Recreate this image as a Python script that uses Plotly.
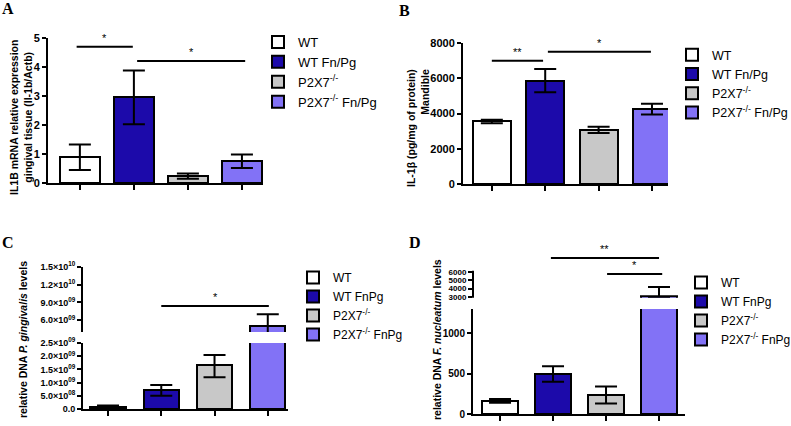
import plotly.graph_objects as go

W, H = 791, 426
FONT = "Liberation Sans"
SUP = "<sup>-/-</sup>"

groups_a = ["WT", "WT Fn/Pg", "P2X7" + SUP, "P2X7" + SUP + " Fn/Pg"]
groups_c = ["WT", "WT FnPg", "P2X7" + SUP, "P2X7" + SUP + " FnPg"]
colors = ["#FFFFFF", "#1C0AAA", "#C8C8C8", "#8272F6"]

# panel A: IL1B mRNA
a_mean = [0.90, 2.97, 0.25, 0.77]
a_plus = [0.43, 0.91, 0.08, 0.21]
a_minus = [0.45, 0.94, 0.10, 0.25]

# panel B: IL-1b protein
b_mean = [3550, 5870, 3080, 4270]
b_plus = [100, 660, 170, 280]
b_minus = [100, 670, 180, 320]

# panel C: P. gingivalis DNA
c_mean = [0.08e9, 0.72e9, 1.65e9, 5.0e9]
c_plus = [0.05e9, 0.19e9, 0.40e9, 2.0e9]
c_minus = [0.05e9, 0.22e9, 0.45e9, 2.0e9]

# panel D: F. nucleatum DNA
d_mean = [165, 500, 235, 3100]
d_plus = [20, 90, 105, 1100]
d_minus = [25, 100, 105, 200]

# significance bars: (x0, x1, y, label)
sig_a = [(-0.06, 0.98, 4.70, "*"), (1.06, 3.06, 4.21, "*")]
sig_b = [(0.0, 0.96, 7000, "**"), (1.05, 2.98, 7500, "*")]
sig_c = [(1.0, 3.02, 8.4e9, "*")]
sig_d = [(0.96, 3.0, 7680, "**"), (2.02, 3.06, 5760, "*")]

c_lo_ticks = [0, 0.5e9, 1.0e9, 1.5e9, 2.0e9, 2.5e9]
c_lo_text = ["0.0", "5.0×10<sup>08</sup>", "1.0×10<sup>09</sup>", "1.5×10<sup>09</sup>",
             "2.0×10<sup>09</sup>", "2.5×10<sup>09</sup>"]
c_hi_ticks = [6.0e9, 9.0e9, 1.2e10, 1.5e10]
c_hi_text = ["6.0×10<sup>09</sup>", "9.0×10<sup>09</sup>", "1.2×10<sup>10</sup>",
             "1.5×10<sup>10</sup>"]
d_lo_ticks = [0, 500, 1000]
d_hi_ticks = [3000, 4000, 5000, 6000]


def px(x):
    return x / W


def py(y):
    return 1 - y / H


fig = go.Figure()


def add_bars(mean, plus, minus, names, xa, ya, legend, width, show):
    for i in range(4):
        fig.add_trace(go.Bar(
            x=[i], y=[mean[i]], name=names[i], width=width,
            marker=dict(color=colors[i], line=dict(color="black", width=2)),
            error_y=dict(type="data", symmetric=False, array=[plus[i]],
                         arrayminus=[minus[i]], color="black", thickness=2, width=11),
            xaxis=xa, yaxis=ya, legend=legend, showlegend=show,
        ))


add_bars(a_mean, a_plus, a_minus, groups_a, "x", "y", "legend", 0.74, True)
add_bars(b_mean, b_plus, b_minus, groups_a, "x2", "y2", "legend2", 0.71, True)
add_bars(c_mean, c_plus, c_minus, groups_c, "x3", "y3", "legend3", 0.66, True)
add_bars(d_mean, d_plus, d_minus, groups_c, "x4", "y4", "legend4", 0.68, True)
add_bars(c_mean, c_plus, c_minus, groups_c, "x5", "y5", "legend3", 0.66, False)
add_bars(d_mean, d_plus, d_minus, groups_c, "x6", "y6", "legend4", 0.68, False)


def xax(x0, x1, rng, anchor, show=True):
    d = dict(domain=[px(x0), px(x1)], range=rng, anchor=anchor,
             tickvals=[0, 1, 2, 3], showticklabels=False,
             showgrid=False, zeroline=False, fixedrange=True)
    if show:
        d.update(showline=True, linewidth=2, linecolor="black",
                 ticks="outside", ticklen=5, tickwidth=2, tickcolor="black")
    else:
        d.update(showline=False, ticks="")
    return d


def yax(y0, y1, rng, anchor, size=11, showline=True, **kw):
    d = dict(domain=[py(y0), py(y1)], range=rng, anchor=anchor,
             showgrid=False, zeroline=False, showline=showline, fixedrange=True,
             linewidth=2, linecolor="black", ticks="outside", ticklen=4,
             tickwidth=2, tickcolor="black",
             tickfont=dict(family=FONT, size=size, color="black", weight="bold"))
    d.update(kw)
    return d


fig.update_layout(
    xaxis=xax(48, 263, [-0.59, 3.39], "y"),
    yaxis=yax(183, 38, [0, 5], "x", tickvals=[0, 1, 2, 3, 4, 5]),
    xaxis2=xax(463, 668, [-0.54, 3.3], "y2"),
    yaxis2=yax(184, 43, [0, 8000], "x2", tickvals=[0, 2000, 4000, 6000, 8000]),
    xaxis3=xax(83, 288, [-0.47, 3.38], "y3"),
    yaxis3=yax(409, 343, [0, 2.5e9], "x3", size=9,
               tickvals=c_lo_ticks, ticktext=c_lo_text),
    xaxis4=xax(473, 685, [-0.51, 3.49], "y4"),
    yaxis4=yax(414, 309, [0, 1300], "x4", size=10, tickvals=d_lo_ticks),
    xaxis5=xax(83, 288, [-0.47, 3.38], "y5", show=False),
    yaxis5=yax(332, 267, [4.0e9, 1.5e10], "x5", size=9,
               tickvals=c_hi_ticks, ticktext=c_hi_text),
    xaxis6=xax(473, 685, [-0.51, 3.49], "y6", show=False),
    yaxis6=yax(297.8, 255.3, [2900, 8000], "x6", size=8, showline=False,
               tickvals=d_hi_ticks),
)

# hand-drawn axis line for the upper D segment (stops at 6000 like the original)
d_hi = [2900, 8000]
fig.add_shape(type="line", xref="x6 domain", yref="y6 domain", x0=0, x1=0,
              y0=0, y1=(6150 - d_hi[0]) / (d_hi[1] - d_hi[0]),
              line=dict(color="black", width=2))


def add_sig(sigs, xa, ya):
    for x0, x1, y, lab in sigs:
        fig.add_shape(type="line", xref=xa, yref=ya, x0=x0, x1=x1, y0=y, y1=y,
                      line=dict(color="black", width=2))
        fig.add_annotation(x=(x0 + x1) / 2, y=y, xref=xa, yref=ya, text=lab,
                           showarrow=False, yanchor="bottom", yshift=1,
                           font=dict(family=FONT, size=11, color="black"))


add_sig(sig_a, "x", "y")
add_sig(sig_b, "x2", "y2")
add_sig(sig_c, "x5", "y5")
add_sig(sig_d, "x6", "y6")

# y axis titles
titles = [
    (21, 118, "IL1B mRNA relative expression<br>gingival tissue (Il-1b/Actb)", "center"),
    (418, 128, "IL-1β (pg/mg of protein)<br>Mandible", "right"),
    (23, 340, "relative DNA <i>P. gingivalis</i> levels", "center"),
    (437, 340, "relative DNA <i>F. nucleatum</i> levels", "center"),
]
for x, y, t, al in titles:
    fig.add_annotation(x=px(x), y=py(y), xref="paper", yref="paper", text=t,
                       textangle=-90, showarrow=False, align=al,
                       xanchor="center", yanchor="middle",
                       font=dict(family=FONT, size=10.5, color="black", weight="bold"))

# panel letters
for x, y, t in [(8, 9, "A"), (404, 10, "B"), (8, 242, "C"), (415, 242, "D")]:
    fig.add_annotation(x=px(x), y=py(y), xref="paper", yref="paper", text=t,
                       showarrow=False, xanchor="center", yanchor="middle",
                       font=dict(family="Liberation Serif", size=16, color="black",
                                 weight="bold"))


def leg(x, y, size):
    return dict(x=px(x), y=py(y), xanchor="left", yanchor="top",
                font=dict(family=FONT, size=size, color="black"),
                bgcolor="rgba(0,0,0,0)", itemwidth=30, tracegroupgap=0)


fig.update_layout(
    legend=leg(258, 27, 13),
    legend2=leg(672, 40, 12.5),
    legend3=leg(293, 263, 12),
    legend4=leg(681, 268, 12),
    width=W, height=H,
    margin=dict(l=0, r=0, t=0, b=0, autoexpand=False),
    paper_bgcolor="white", plot_bgcolor="white",
    bargap=0, barmode="overlay",
    showlegend=True,
)

fig.write_html("out.html", config={"displayModeBar": False},
               post_script="document.body.style.margin='0px';")
